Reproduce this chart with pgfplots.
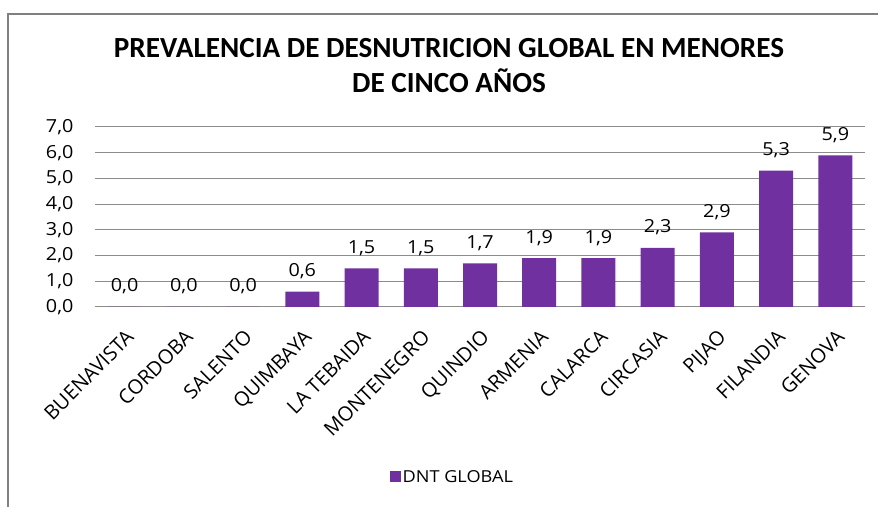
\documentclass[border=0pt]{standalone}
\usepackage{pgfplots}
\pgfplotsset{compat=1.18}
\usepackage{fontspec}
\setmainfont{Carlito}
\newfontfamily\lbl[FakeStretch=1.1]{Open Sans}
\newfontfamily\xlbl{Open Sans}
\definecolor{dntpurple}{RGB}{112,48,160}
\definecolor{gridgray}{RGB}{140,140,140}
\definecolor{framegray}{RGB}{128,128,128}
\begin{document}
\begin{tikzpicture}[x=1pt,y=1pt]
\path[use as bounding box] (0,0) rectangle (878,506);
\draw[framegray,line width=2.5pt] (8,-5) -- (8,492) -- (885,492);
\node[font=\fontsize{29.2}{35}\selectfont\bfseries,align=center] at (449,440) {PREVALENCIA DE DESNUTRICION GLOBAL EN MENORES\\DE CINCO AÑOS};
\begin{axis}[
  at={(95pt,199pt)}, anchor=south west,
  scale only axis, width=770pt, height=180pt,
  ymin=0, ymax=7, ytick={0,1,...,7},
  xmin=-0.5, xmax=12.5,
  xtick=data,
  xticklabels={BUENAVISTA,CORDOBA,SALENTO,QUIMBAYA,LA TEBAIDA,MONTENEGRO,QUINDIO,ARMENIA,CALARCA,CIRCASIA,PIJAO,FILANDIA,GENOVA},
  xticklabel style={rotate=45, anchor=north east, font=\xlbl\fontsize{20}{22}\selectfont, inner sep=1pt},
  yticklabel style={font=\lbl\fontsize{18}{22}\selectfont},
  /pgf/number format/assume math mode=true,
  yticklabel={\pgfmathprintnumber[fixed,fixed zerofill,precision=1,use comma]{\tick}},
  ymajorgrids, grid style={gridgray, line width=1pt},
  axis line style={draw=none},
  axis x line*=bottom,
  x axis line style={gridgray, line width=1pt},
  major tick length=0pt,
  xtick pos=bottom, ytick pos=left,
  yticklabel shift=18pt,
  xticklabel shift=20pt,
  ybar, bar width=34pt,
  nodes near coords={\pgfmathprintnumber[fixed,fixed zerofill,precision=1,use comma,assume math mode=true]{\pgfplotspointmeta}},
  every node near coord/.append style={font=\lbl\fontsize{18}{22}\selectfont, black, anchor=base, yshift=15pt},
  legend style={at={(axis description cs:0.464,-0.944)}, anchor=center, draw=none, fill=none, font=\lbl\fontsize{16.5}{22}\selectfont, legend cell align=left},
  legend image code/.code={\fill[dntpurple] (0pt,-5.5pt) rectangle (11pt,5.5pt);},
]
\addplot[fill=dntpurple, draw=none] coordinates {
(0,0.0) (1,0.0) (2,0.0) (3,0.6) (4,1.5) (5,1.5) (6,1.7) (7,1.9) (8,1.9) (9,2.3) (10,2.9) (11,5.3) (12,5.9)};
\addlegendentry{DNT GLOBAL}
\end{axis}
\end{tikzpicture}
\end{document}
